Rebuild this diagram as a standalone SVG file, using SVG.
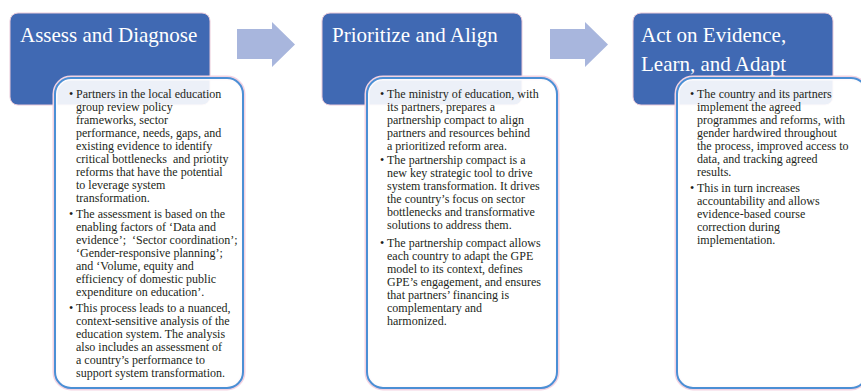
<svg xmlns="http://www.w3.org/2000/svg" width="861" height="392" viewBox="0 0 861 392">
<style>
.head{fill:#4069b3;stroke:#e9c9d8;stroke-width:1}
.card{fill:#ffffff;fill-opacity:0.9;stroke:#4b8fd5;stroke-width:2}
.halo{fill:none;stroke:#f3d3e2;stroke-width:5}
.arrow{fill:#a8b6dd}
.title{font-family:"Liberation Serif",serif;font-size:21px;fill:#ffffff}
.body{font-family:"Liberation Serif",serif;font-size:12px;fill:#231f20}
</style>
<rect width="861" height="392" fill="#ffffff"/>
<g id="connectors">
<path class="arrow" d="M237,29 H272 V22 L295,44.5 L272,67 V59 H237 Z"/>
<path class="arrow" d="M550,29 H585 V22 L608,44.5 L585,67 V59 H550 Z"/>
</g>
<g id="node1">
<rect class="head" x="10" y="13" width="200" height="92" rx="8"/>
<text class="title" x="20" y="42">Assess and Diagnose</text>
<rect class="halo" x="55" y="78" width="188" height="310" rx="16"/>
<rect class="card" x="55" y="78" width="188" height="310" rx="16"/>
<g class="body">
<text x="69" y="98">•</text>
<text x="76" y="98">Partners in the local education</text>
<text x="76" y="111">group review policy</text>
<text x="76" y="124">frameworks, sector</text>
<text x="76" y="137">performance, needs, gaps, and</text>
<text x="76" y="150">existing evidence to identify</text>
<text x="76" y="163" xml:space="preserve">critical bottlenecks  and priotity</text>
<text x="76" y="176">reforms that have the potential</text>
<text x="76" y="189">to leverage system</text>
<text x="76" y="202">transformation.</text>
<text x="69" y="218">•</text>
<text x="76" y="218">The assessment is based on the</text>
<text x="76" y="231">enabling factors of ‘Data and</text>
<text x="76" y="244" xml:space="preserve">evidence’;  ‘Sector coordination’;</text>
<text x="76" y="257">‘Gender-responsive planning’;</text>
<text x="76" y="270">and ‘Volume, equity and</text>
<text x="76" y="283">efficiency of domestic public</text>
<text x="76" y="296">expenditure on education’.</text>
<text x="69" y="312">•</text>
<text x="76" y="312">This process leads to a nuanced,</text>
<text x="76" y="325">context-sensitive analysis of the</text>
<text x="76" y="338">education system. The analysis</text>
<text x="76" y="351">also includes an assessment of</text>
<text x="76" y="364">a country’s performance to</text>
<text x="76" y="377">support system transformation.</text>
</g>
</g>
<g id="node2">
<rect class="head" x="322" y="13" width="200" height="92" rx="8"/>
<text class="title" x="332" y="42">Prioritize and Align</text>
<rect class="halo" x="367" y="78" width="190" height="310" rx="16"/>
<rect class="card" x="367" y="78" width="190" height="310" rx="16"/>
<g class="body">
<text x="380" y="98">•</text>
<text x="387" y="98">The ministry of education, with</text>
<text x="387" y="111">its partners, prepares a</text>
<text x="387" y="124">partnership compact to align</text>
<text x="387" y="137">partners and resources behind</text>
<text x="387" y="150">a prioritized reform area.</text>
<text x="380" y="164">•</text>
<text x="387" y="164">The partnership compact is a</text>
<text x="387" y="177">new key strategic tool to drive</text>
<text x="387" y="190">system transformation. It drives</text>
<text x="387" y="203">the country’s focus on sector</text>
<text x="387" y="216">bottlenecks and transformative</text>
<text x="387" y="229">solutions to address them.</text>
<text x="380" y="247">•</text>
<text x="387" y="247">The partnership compact allows</text>
<text x="387" y="260">each country to adapt the GPE</text>
<text x="387" y="273">model to its context, defines</text>
<text x="387" y="286">GPE’s engagement, and ensures</text>
<text x="387" y="299">that partners’ financing is</text>
<text x="387" y="312">complementary and</text>
<text x="387" y="325">harmonized.</text>
</g>
</g>
<g id="node3">
<rect class="head" x="633" y="13" width="200" height="92" rx="8"/>
<text class="title" x="641" y="42">Act on Evidence,</text>
<text class="title" x="641" y="71">Learn, and Adapt</text>
<rect class="halo" x="677" y="78" width="190" height="310" rx="16"/>
<rect class="card" x="677" y="78" width="190" height="310" rx="16"/>
<g class="body">
<text x="690" y="98">•</text>
<text x="697" y="98">The country and its partners</text>
<text x="697" y="111">implement the agreed</text>
<text x="697" y="124">programmes and reforms, with</text>
<text x="697" y="137">gender hardwired throughout</text>
<text x="697" y="150">the process, improved access to</text>
<text x="697" y="163">data, and tracking agreed</text>
<text x="697" y="176">results.</text>
<text x="690" y="192">•</text>
<text x="697" y="192">This in turn increases</text>
<text x="697" y="205">accountability and allows</text>
<text x="697" y="218">evidence-based course</text>
<text x="697" y="231">correction during</text>
<text x="697" y="244">implementation.</text>
</g>
</g>
</svg>
